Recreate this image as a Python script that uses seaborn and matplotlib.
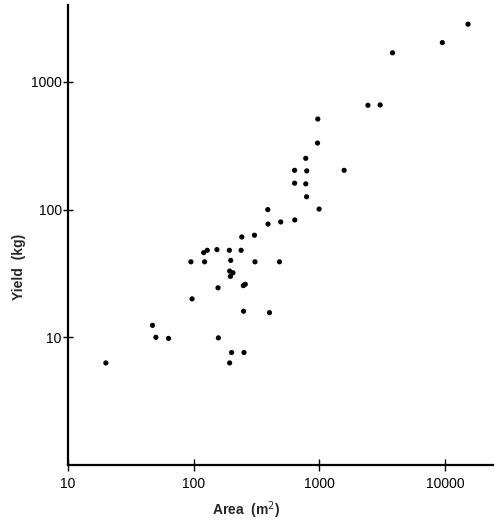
import numpy as np
import pandas as pd
import matplotlib
matplotlib.use('Agg')
import matplotlib.pyplot as plt
import seaborn as sns

# area (m2) and yield (kg) per plot
area = [20, 47, 50, 63, 95, 97, 120, 128, 122, 153, 156, 157,
        192, 197, 193, 205, 196, 193, 200, 238, 241, 248, 257, 249,
        251, 304, 307, 390, 388, 400, 481, 492, 636, 634, 634, 778,
        792, 778, 790, 970, 965, 993, 1570, 2430, 3040, 3810, 9490, 15200]
yld = [6.3, 12.4, 10, 9.8, 39, 20, 46, 48, 39, 48.6, 24.4, 9.9,
       48, 40, 33, 32, 30, 6.3, 7.6, 48, 61, 25.4, 26, 16,
       7.6, 63, 39, 77, 100, 15.6, 39, 80, 83, 203, 161, 252,
       201, 159, 126, 512, 332, 101, 203, 656, 660, 1690, 2030, 2830]

xticks = [10, 100, 1000, 10000]
xticklabels = ['10', '100', '1000', '10000']
yticks = [10, 100, 1000]
yticklabels = ['10', '100', '1000']

df = pd.DataFrame({'area': area, 'yield': yld})

sns.set_style('ticks')
plt.rcParams['font.family'] = ['Liberation Sans', 'DejaVu Sans']

fig = plt.figure(figsize=(5, 5.24), dpi=100)
ax = fig.add_axes([68 / 500, 59 / 524, (493 - 68) / 500, 460 / 524])

sns.scatterplot(data=df, x='area', y='yield', ax=ax, color='black',
                s=14, edgecolor='none', linewidth=0)

ax.set_xscale('log')
ax.set_yscale('log')
ax.set_xlim(10, 24000)
ax.set_ylim(1, 4000)
ax.minorticks_off()
ax.set_xticks(xticks, labels=xticklabels)
ax.set_yticks(yticks, labels=yticklabels)
ax.tick_params(which='minor', length=0)

sns.despine(ax=ax)
for s in ['left', 'bottom']:
    ax.spines[s].set_linewidth(1.6)
    ax.spines[s].set_color('black')

ax.tick_params(axis='x', direction='inout', length=9, width=1, labelsize=10, pad=4, colors='black')
ax.tick_params(axis='y', direction='inout', length=7, width=1, labelsize=10, pad=1, colors='black')

ax.set_xlabel('Area  (m$^2$)', fontsize=10, fontweight='bold')
ax.set_ylabel('Yield  (kg)', fontsize=10, fontweight='bold')
ax.xaxis.set_label_coords(0.42, -0.075)
ax.yaxis.set_label_coords(-0.1, 0.43)

fig.savefig('out.png', dpi=100)
